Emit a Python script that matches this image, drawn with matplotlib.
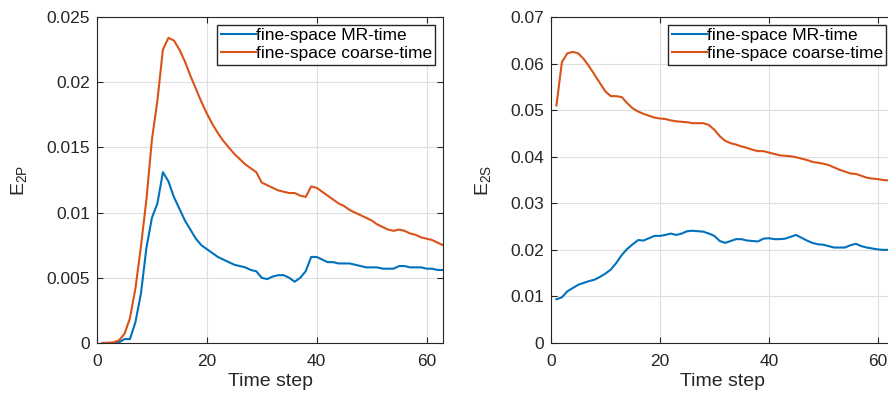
import matplotlib
matplotlib.use("Agg")
import matplotlib.pyplot as plt

plt.rcParams['font.family'] = ['Liberation Sans', 'DejaVu Sans']

# Left panel: E_2P
steps_left = list(range(1, 64))
mr_2p = [0.0000, 0.0000, 0.0000, 0.00005, 0.0003, 0.0003, 0.0016, 0.0038, 0.0073, 0.0096,
         0.0107, 0.0131, 0.0124, 0.0112, 0.0103, 0.0094, 0.0087, 0.0080, 0.0075, 0.0072,
         0.0069, 0.0066, 0.0064, 0.0062, 0.0060, 0.0059, 0.0058, 0.0056, 0.0055, 0.0050,
         0.0049, 0.0051, 0.0052, 0.0052, 0.0050, 0.0047, 0.0050, 0.0055, 0.0066, 0.0066,
         0.0064, 0.0062, 0.0062, 0.0061, 0.0061, 0.0061, 0.0060, 0.0059, 0.0058, 0.0058,
         0.0058, 0.0057, 0.0057, 0.0057, 0.0059, 0.0059, 0.0058, 0.0058, 0.0058, 0.0057,
         0.0057, 0.0056, 0.0056]
coarse_2p = [0.0000, 0.00002, 0.00005, 0.0002, 0.0007, 0.0019, 0.0042, 0.0074, 0.0110, 0.0156,
             0.0186, 0.0225, 0.0234, 0.0232, 0.0225, 0.0216, 0.0205, 0.0195, 0.0185, 0.0176,
             0.0168, 0.0161, 0.0155, 0.0150, 0.0145, 0.0141, 0.0137, 0.0134, 0.0131, 0.0123,
             0.0121, 0.0119, 0.0117, 0.0116, 0.0115, 0.0115, 0.0113, 0.0112, 0.0120, 0.0119,
             0.0116, 0.0113, 0.0110, 0.0107, 0.0105, 0.0102, 0.0100, 0.0098, 0.0096, 0.0094,
             0.0091, 0.0089, 0.0087, 0.0086, 0.0087, 0.0086, 0.0084, 0.0083, 0.0081, 0.0080,
             0.0079, 0.0077, 0.0075]

# Right panel: E_2S
steps_right = list(range(1, 64))
mr_2s = [0.0094, 0.0098, 0.0111, 0.0118, 0.0125, 0.0129, 0.0133, 0.0136, 0.0142, 0.0149,
         0.0158, 0.0172, 0.0189, 0.0202, 0.0212, 0.0221, 0.0220, 0.0225, 0.0230, 0.0230,
         0.0232, 0.0235, 0.0232, 0.0235, 0.0240, 0.0241, 0.0240, 0.0239, 0.0235, 0.0230,
         0.0219, 0.0215, 0.0219, 0.0223, 0.0223, 0.0220, 0.0219, 0.0218, 0.0224, 0.0225,
         0.0223, 0.0223, 0.0224, 0.0228, 0.0232, 0.0226, 0.0220, 0.0215, 0.0212, 0.0211,
         0.0208, 0.0205, 0.0205, 0.0205, 0.0210, 0.0213, 0.0208, 0.0205, 0.0203, 0.0201,
         0.0200, 0.0200, 0.0199]
coarse_2s = [0.0510, 0.0603, 0.0622, 0.0625, 0.0622, 0.0610, 0.0594, 0.0576, 0.0558, 0.0540,
             0.0530, 0.0530, 0.0528, 0.0515, 0.0504, 0.0497, 0.0492, 0.0488, 0.0484, 0.0482,
             0.0481, 0.0478, 0.0476, 0.0475, 0.0474, 0.0472, 0.0472, 0.0472, 0.0468, 0.0458,
             0.0444, 0.0434, 0.0429, 0.0426, 0.0422, 0.0419, 0.0415, 0.0412, 0.0412, 0.0409,
             0.0406, 0.0403, 0.0402, 0.0401, 0.0399, 0.0396, 0.0393, 0.0389, 0.0387, 0.0385,
             0.0382, 0.0377, 0.0372, 0.0368, 0.0364, 0.0363, 0.0359, 0.0355, 0.0353, 0.0352,
             0.0350, 0.0349, 0.0348]

left_yticks = [0, 0.005, 0.01, 0.015, 0.02, 0.025]
left_yticklabels = ['0', '0.005', '0.01', '0.015', '0.02', '0.025']
right_yticks = [0, 0.01, 0.02, 0.03, 0.04, 0.05, 0.06, 0.07]
right_yticklabels = ['0', '0.01', '0.02', '0.03', '0.04', '0.05', '0.06', '0.07']
xticks = [0, 20, 40, 60]

blue = '#0072BD'
orange = '#D95319'
axcol = '#262626'

fig = plt.figure(figsize=(8.88, 3.98), dpi=100)
ax1 = fig.add_axes([97/888, 55/398, 346/888, 326/398])
ax2 = fig.add_axes([551/888, 55/398, 343/888, 326/398])

def style(ax, ylabel, yticks, yticklabels, ymax):
    ax.set_xlim(0, 63)
    ax.set_ylim(0, ymax)
    ax.set_xticks(xticks)
    ax.set_yticks(yticks)
    ax.set_yticklabels(yticklabels)
    ax.grid(True, color='#dfdfdf', linewidth=0.8)
    ax.set_axisbelow(True)
    ax.tick_params(direction='in', length=4, width=0.8, colors=axcol,
                   labelsize=12.5, top=True, right=True, pad=5)
    ax.tick_params(axis='x', pad=8)
    for s in ax.spines.values():
        s.set_color(axcol)
        s.set_linewidth(0.8)
    ax.set_xlabel('Time step', fontsize=14, color=axcol, labelpad=3)
    ax.set_ylabel(ylabel, fontsize=14, color=axcol, labelpad=12)
    ax.legend(loc='upper right', fontsize=12.5, frameon=True, fancybox=False,
              edgecolor=axcol, framealpha=1, borderpad=0.2, labelspacing=0.15,
              handlelength=2.0, handletextpad=0.0, borderaxespad=0.45)

ax1.plot(steps_left, mr_2p, color=blue, lw=1.5, label='fine-space MR-time')
ax1.plot(steps_left, coarse_2p, color=orange, lw=1.5, label='fine-space coarse-time')
style(ax1, r'E$_{\mathregular{2P}}$', left_yticks, left_yticklabels, 0.025)

ax2.plot(steps_right, mr_2s, color=blue, lw=1.5, label='fine-space MR-time')
ax2.plot(steps_right, coarse_2s, color=orange, lw=1.5, label='fine-space coarse-time')
style(ax2, r'E$_{\mathregular{2S}}$', right_yticks, right_yticklabels, 0.07)

fig.savefig('out.png', dpi=100)
